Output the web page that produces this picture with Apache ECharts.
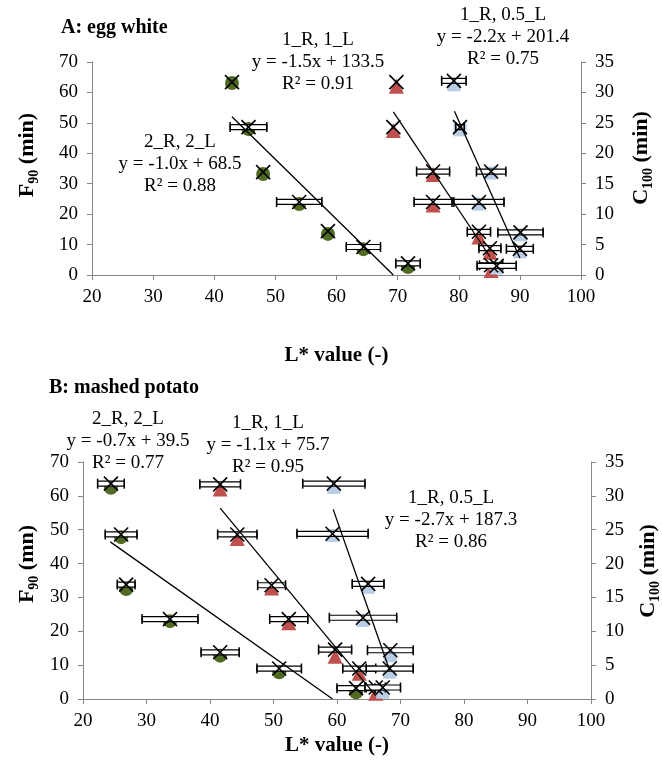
<!DOCTYPE html>
<html>
<head>
<meta charset="utf-8">
<script src="https://cdn.jsdelivr.net/npm/echarts@6/dist/echarts.min.js"></script>
<style>
  html, body { margin: 0; padding: 0; background: #fff; }
  #chart { width: 662px; height: 765px; }
</style>
</head>
<body>
<div id="chart"></div>
<script>
// A: egg white  (L* value, F90 on left axis, C100 + error on right axis)
var egg22L = [42.9, 45.6, 48.0, 53.9, 58.6, 64.4, 71.7];
var egg22F = [63.1, 48.0, 33.2, 23.3, 13.5, 8.5, 2.6];
var egg22C = [31.7, 24.3, 16.9, 12.0, 7.2, 4.6, 1.9];
var egg22E = [0, 3.0, 0, 3.7, 0, 2.8, 2.0];

var egg11L = [69.8, 69.3, 75.8, 75.8, 83.3, 85.1, 85.3];
var egg11F = [62.0, 47.5, 33.0, 23.0, 12.5, 7.5, 1.5];
var egg11C = [31.7, 24.3, 17.0, 12.0, 7.1, 4.4, 1.6];
var egg11E = [0, 0, 2.7, 3.1, 1.9, 1.8, 1.9];

var egg105L = [79.2, 80.2, 85.3, 83.3, 90.1, 90.0, 86.2];
var egg105F = [62.5, 47.7, 33.5, 23.3, 13.2, 7.6, 2.3];
var egg105C = [31.9, 24.3, 17.0, 12.0, 7.0, 4.3, 1.5];
var egg105E = [2.0, 0.7, 2.4, 4.1, 3.7, 2.2, 3.2];

// B: mashed potato
var pot22L = [24.4, 26.0, 26.8, 33.7, 41.6, 50.9, 63.0];
var pot22F = [62.4, 47.8, 32.5, 23.0, 12.8, 7.9, 2.0];
var pot22C = [31.8, 24.3, 16.9, 11.8, 6.9, 4.5, 1.6];
var pot22E = [2.1, 2.5, 1.4, 4.4, 3.0, 3.5, 3.0];

var pot11L = [41.6, 44.3, 49.7, 52.4, 59.7, 63.5, 66.1];
var pot11F = [62.0, 47.4, 32.8, 22.5, 12.6, 7.6, 1.7];
var pot11C = [31.7, 24.3, 16.8, 11.8, 7.3, 4.5, 1.7];
var pot11E = [3.2, 3.1, 2.2, 3.0, 2.6, 2.6, 1.5];

var pot105L = [59.5, 59.3, 64.9, 64.1, 68.4, 68.3, 67.2];
var pot105F = [62.5, 48.3, 33.0, 23.2, 12.8, 7.9, 2.0];
var pot105C = [31.8, 24.4, 17.0, 12.0, 7.2, 4.5, 1.7];
var pot105E = [4.9, 5.6, 2.5, 5.3, 3.6, 3.7, 2.8];

// trendline end points (L*, C100) as drawn
var eggTrend22 = [[42.9, 26.0], [69.3, 0]];
var eggTrend11 = [[69.3, 26.8], [85.1, 3.0]];
var eggTrend105 = [[79.3, 26.9], [90.0, 2.8]];
var potTrend22 = [[24.3, 23.2], [59.3, 0]];
var potTrend11 = [[41.6, 28.2], [66.1, 0.5]];
var potTrend105 = [[59.4, 28.0], [68.3, 4.2]];

var green = '#4f6b22', red = '#c0504d', blue = '#b9cde5';
var serif = 'Liberation Serif';

function pairs(xs, ys) {
  return xs.map(function (x, i) { return [x, ys[i]]; });
}
function triples(xs, ys, es) {
  return xs.map(function (x, i) { return [x, ys[i], es[i]]; });
}

// error bar (double line, capped) + black X marker
function renderErr(params, api) {
  var x = api.value(0), y = api.value(1), e = api.value(2);
  var c = api.coord([x, y]);
  var kids = [];
  if (e > 0) {
    var l = api.coord([x - e, y]), r = api.coord([x + e, y]);
    kids.push({ type: 'rect', shape: { x: l[0], y: c[1] - 2.5, width: r[0] - l[0], height: 5 },
      style: { fill: '#fff', stroke: '#000', lineWidth: 1.2 } });
    kids.push({ type: 'line', shape: { x1: l[0], y1: c[1] - 5, x2: l[0], y2: c[1] + 5 },
      style: { stroke: '#000', lineWidth: 1.5 } });
    kids.push({ type: 'line', shape: { x1: r[0], y1: c[1] - 5, x2: r[0], y2: c[1] + 5 },
      style: { stroke: '#000', lineWidth: 1.5 } });
  }
  var s = 7;
  kids.push({ type: 'line', shape: { x1: c[0] - s, y1: c[1] - s, x2: c[0] + s, y2: c[1] + s },
    style: { stroke: '#000', lineWidth: 1.6 } });
  kids.push({ type: 'line', shape: { x1: c[0] - s, y1: c[1] + s, x2: c[0] + s, y2: c[1] - s },
    style: { stroke: '#000', lineWidth: 1.6 } });
  return { type: 'group', children: kids };
}

var labelStyle = { color: '#000', fontFamily: serif, fontSize: 19 };
var axisLine = { show: true, lineStyle: { color: '#868686', width: 1 } };
var axisTick = { show: true, length: 5, lineStyle: { color: '#868686' } };
var richName = {
  b: { fontFamily: serif, fontWeight: 'bold', fontSize: 22, fill: '#000', lineHeight: 28, verticalAlign: 'middle' },
  s: { fontFamily: serif, fontWeight: 'bold', fontSize: 14, fill: '#000', lineHeight: 28, verticalAlign: 'bottom' }
};

function xAx(gi, gap) {
  return {
    gridIndex: gi, type: 'value', min: 20, max: 100, interval: 10,
    name: 'L* value (-)', nameLocation: 'middle', nameGap: gap,
    nameTextStyle: { fontFamily: serif, fontWeight: 'bold', fontSize: 21, color: '#000' },
    axisLine: axisLine, axisTick: axisTick, splitLine: { show: false },
    axisLabel: Object.assign({ margin: 13 }, labelStyle)
  };
}
function yAx(gi, pos, max, step) {
  return {
    gridIndex: gi, type: 'value', position: pos, min: 0, max: max, interval: step,
    axisLine: axisLine, axisTick: axisTick, splitLine: { show: false },
    axisLabel: Object.assign({ margin: 14 }, labelStyle)
  };
}

function scatter(xi, yi, data, sym, size, color) {
  return { type: 'scatter', xAxisIndex: xi, yAxisIndex: yi, data: data,
    symbol: sym, symbolSize: size, itemStyle: { color: color, opacity: 1 }, z: 2 };
}
function trend(xi, yi, data) {
  return { type: 'line', xAxisIndex: xi, yAxisIndex: yi, data: data, symbol: 'none',
    lineStyle: { color: '#000', width: 1.3 }, z: 4 };
}
function errs(xi, yi, data) {
  return { type: 'custom', xAxisIndex: xi, yAxisIndex: yi, data: data,
    renderItem: renderErr, z: 3 };
}

function note(cx, cy, lines) {
  return lines.map(function (t, i) {
    return { type: 'text', x: cx, y: cy + i * 22,
      style: { text: t, font: '19px "Liberation Serif"', fill: '#000',
        textAlign: 'center', textVerticalAlign: 'middle' } };
  });
}
// rotated axis title with subscript
function vname(cx, cy, txt) {
  return { type: 'text', x: cx, y: cy, rotation: Math.PI / 2,
    style: { text: txt, rich: richName, align: 'center', verticalAlign: 'middle' } };
}

var chart = echarts.init(document.getElementById('chart'));
var option = {
  animation: false,
  backgroundColor: '#fff',
  title: [
    { text: 'A: egg white', left: 56, top: 13,
      textStyle: { fontFamily: serif, fontWeight: 'bold', fontSize: 20, color: '#000' } },
    { text: 'B: mashed potato', left: 44, top: 373,
      textStyle: { fontFamily: serif, fontWeight: 'bold', fontSize: 20, color: '#000' } }
  ],
  grid: [
    { left: 92, right: 81, top: 62, height: 213, outerBoundsMode: 'none' },
    { left: 83, right: 71, top: 462, height: 237, outerBoundsMode: 'none' }
  ],
  xAxis: [xAx(0, 70), xAx(1, 36)],
  yAxis: [
    yAx(0, 'left', 70, 10),
    yAx(0, 'right', 35, 5),
    yAx(1, 'left', 70, 10),
    yAx(1, 'right', 35, 5)
  ],
  series: [
    scatter(0, 0, pairs(egg22L, egg22F), 'circle', 14, green),
    scatter(0, 0, pairs(egg11L, egg11F), 'triangle', 15, red),
    scatter(0, 0, pairs(egg105L, egg105F), 'rect', 13, blue),
    trend(0, 1, eggTrend22),
    trend(0, 1, eggTrend11),
    trend(0, 1, eggTrend105),
    errs(0, 1, triples(egg22L, egg22C, egg22E)),
    errs(0, 1, triples(egg11L, egg11C, egg11E)),
    errs(0, 1, triples(egg105L, egg105C, egg105E)),

    scatter(1, 2, pairs(pot22L, pot22F), 'circle', 14, green),
    scatter(1, 2, pairs(pot11L, pot11F), 'triangle', 15, red),
    scatter(1, 2, pairs(pot105L, pot105F), 'rect', 13, blue),
    trend(1, 3, potTrend22),
    trend(1, 3, potTrend11),
    trend(1, 3, potTrend105),
    errs(1, 3, triples(pot22L, pot22C, pot22E)),
    errs(1, 3, triples(pot11L, pot11C, pot11E)),
    errs(1, 3, triples(pot105L, pot105C, pot105E))
  ],
  graphic: [].concat(
    note(180, 142, ['2_R, 2_L', 'y = -1.0x + 68.5', 'R² = 0.88']),
    note(318, 40, ['1_R, 1_L', 'y = -1.5x + 133.5', 'R² = 0.91']),
    note(503, 15, ['1_R, 0.5_L', 'y = -2.2x + 201.4', 'R² = 0.75']),
    note(128, 419, ['2_R, 2_L', 'y = -0.7x + 39.5', 'R² = 0.77']),
    note(268, 423, ['1_R, 1_L', 'y = -1.1x + 75.7', 'R² = 0.95']),
    note(451, 498, ['1_R, 0.5_L', 'y = -2.7x + 187.3', 'R² = 0.86']),
    [
      vname(27, 155, '{b|F}{s|90}{b| (min)}'),
      vname(641, 158, '{b|C}{s|100}{b| (min)}'),
      vname(27, 564, '{b|F}{s|90}{b| (mn)}'),
      vname(648, 571, '{b|C}{s|100}{b| (min)}')
    ]
  )
};
chart.setOption(option);
</script>
</body>
</html>
